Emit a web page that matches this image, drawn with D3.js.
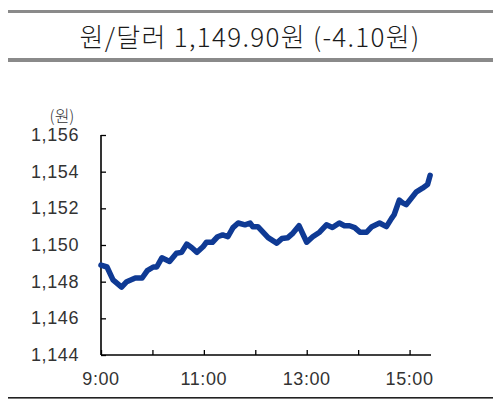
<!DOCTYPE html>
<html><head><meta charset="utf-8">
<script src="https://cdn.jsdelivr.net/npm/d3@7"></script>
<style>
body{margin:0;background:#fff;}
svg{display:block;}
</style></head>
<body><svg id="c" width="500" height="405"></svg>
<script>
const title = "원/달러 1,149.90원 (-4.10원)";
const unitLabel = "(원)";
const times = ["9:00","9:07","9:14","9:24","9:30","9:40","9:48","9:54","10:01","10:05","10:11","10:20","10:28","10:34","10:40","10:46","10:52","10:59","11:03","11:10","11:16","11:22","11:28","11:34","11:40","11:48","11:54","11:57","12:03","12:09","12:15","12:25","12:31","12:38","12:44","12:51","13:00","13:07","13:15","13:23","13:30","13:38","13:44","13:50","13:56","14:02","14:10","14:16","14:25","14:33","14:39","14:42","14:48","14:52","14:56","15:02","15:08","15:15","15:21","15:24"];
const values = [1148.9,1148.8,1148.1,1147.7,1148.0,1148.2,1148.2,1148.6,1148.8,1148.8,1149.3,1149.1,1149.55,1149.6,1150.05,1149.85,1149.6,1149.9,1150.15,1150.15,1150.45,1150.55,1150.45,1150.95,1151.2,1151.1,1151.2,1151.0,1151.0,1150.7,1150.4,1150.1,1150.35,1150.4,1150.65,1151.05,1150.15,1150.45,1150.7,1151.1,1150.95,1151.2,1151.05,1151.05,1150.95,1150.7,1150.7,1151.0,1151.2,1151.0,1151.45,1151.65,1152.45,1152.3,1152.2,1152.55,1152.9,1153.1,1153.3,1153.8];
const yTicks = [1144,1146,1148,1150,1152,1154,1156];
const xTickHours = ["9:00","10:00","11:00","12:00","13:00","14:00","15:00"];
const xTickLabels = ["9:00","","11:00","","13:00","","15:00"];
const xEnd = "15:25";

const toMin = s => { const [h,m] = s.split(":").map(Number); return h*60+m; };
const data = times.map((t,i)=>({t:toMin(t), v:values[i]}));

const svg = d3.select("#c");
const x = d3.scaleLinear().domain([toMin("9:00"), toMin(xEnd)]).range([101, 431]);
const y = d3.scaleLinear().domain([1144,1156]).range([355, 135]);

// frame lines
svg.append("rect").attr("x",8).attr("y",10).attr("width",485).attr("height",3).attr("fill","#8a8a8a");
svg.append("rect").attr("x",8).attr("y",58).attr("width",485).attr("height",4).attr("fill","#8a8a8a");
svg.append("rect").attr("x",8).attr("y",397).attr("width",485).attr("height",1.6).attr("fill","#222");

svg.append("text").attr("x",250).attr("y",47).attr("text-anchor","middle")
  .attr("font-family","'Noto Sans CJK KR', 'Liberation Sans', sans-serif")
  .attr("font-size",26).attr("font-weight",300).attr("letter-spacing","1.3").attr("fill","#1a1a1a").text(title);

svg.append("text").attr("x",62).attr("y",122).attr("text-anchor","middle")
  .attr("font-family","'Noto Sans CJK KR', sans-serif").attr("font-size",16).attr("font-weight",300).attr("fill","#333").text(unitLabel);

// y axis
const yAxis = d3.axisRight(y).tickValues(yTicks).tickSize(5).tickFormat("");
const gy = svg.append("g").attr("transform","translate(101,0)").call(yAxis);
gy.select(".domain").attr("stroke","#000").attr("stroke-width",1.6).attr("d","M0,135V355");
gy.selectAll(".tick line").attr("stroke","#000").attr("stroke-width",1.3);
svg.append("g").selectAll("text").data(yTicks).join("text")
  .attr("x",79).attr("y",d=>y(d)+6).attr("text-anchor","end")
  .attr("font-family","'Liberation Sans', Arial, sans-serif").attr("font-size",18)
  .attr("letter-spacing","0.6").attr("fill","#333").text(d3.format(",")); 

// x axis
const xAxis = d3.axisTop(x).tickValues(xTickHours.map(toMin)).tickSize(5).tickFormat("");
const gx = svg.append("g").attr("transform","translate(0,355)").call(xAxis);
gx.select(".domain").attr("stroke","#000").attr("stroke-width",1.6).attr("d","M101,0H431");
gx.selectAll(".tick line").attr("stroke","#000").attr("stroke-width",1.3);
svg.append("g").selectAll("text").data(xTickHours).join("text")
  .attr("x",d=>x(toMin(d))).attr("y",385).attr("text-anchor","middle")
  .attr("font-family","'Liberation Sans', Arial, sans-serif").attr("font-size",18)
  .attr("letter-spacing","0.6").attr("fill","#333").text((d,i)=>xTickLabels[i]);

// line
const line = d3.line().x(d=>x(d.t)).y(d=>y(d.v));
svg.append("path").datum(data).attr("d",line).attr("fill","none")
  .attr("stroke","#0f3a94").attr("stroke-width",5.5).attr("stroke-linejoin","round").attr("stroke-linecap","round");
</script></body></html>
